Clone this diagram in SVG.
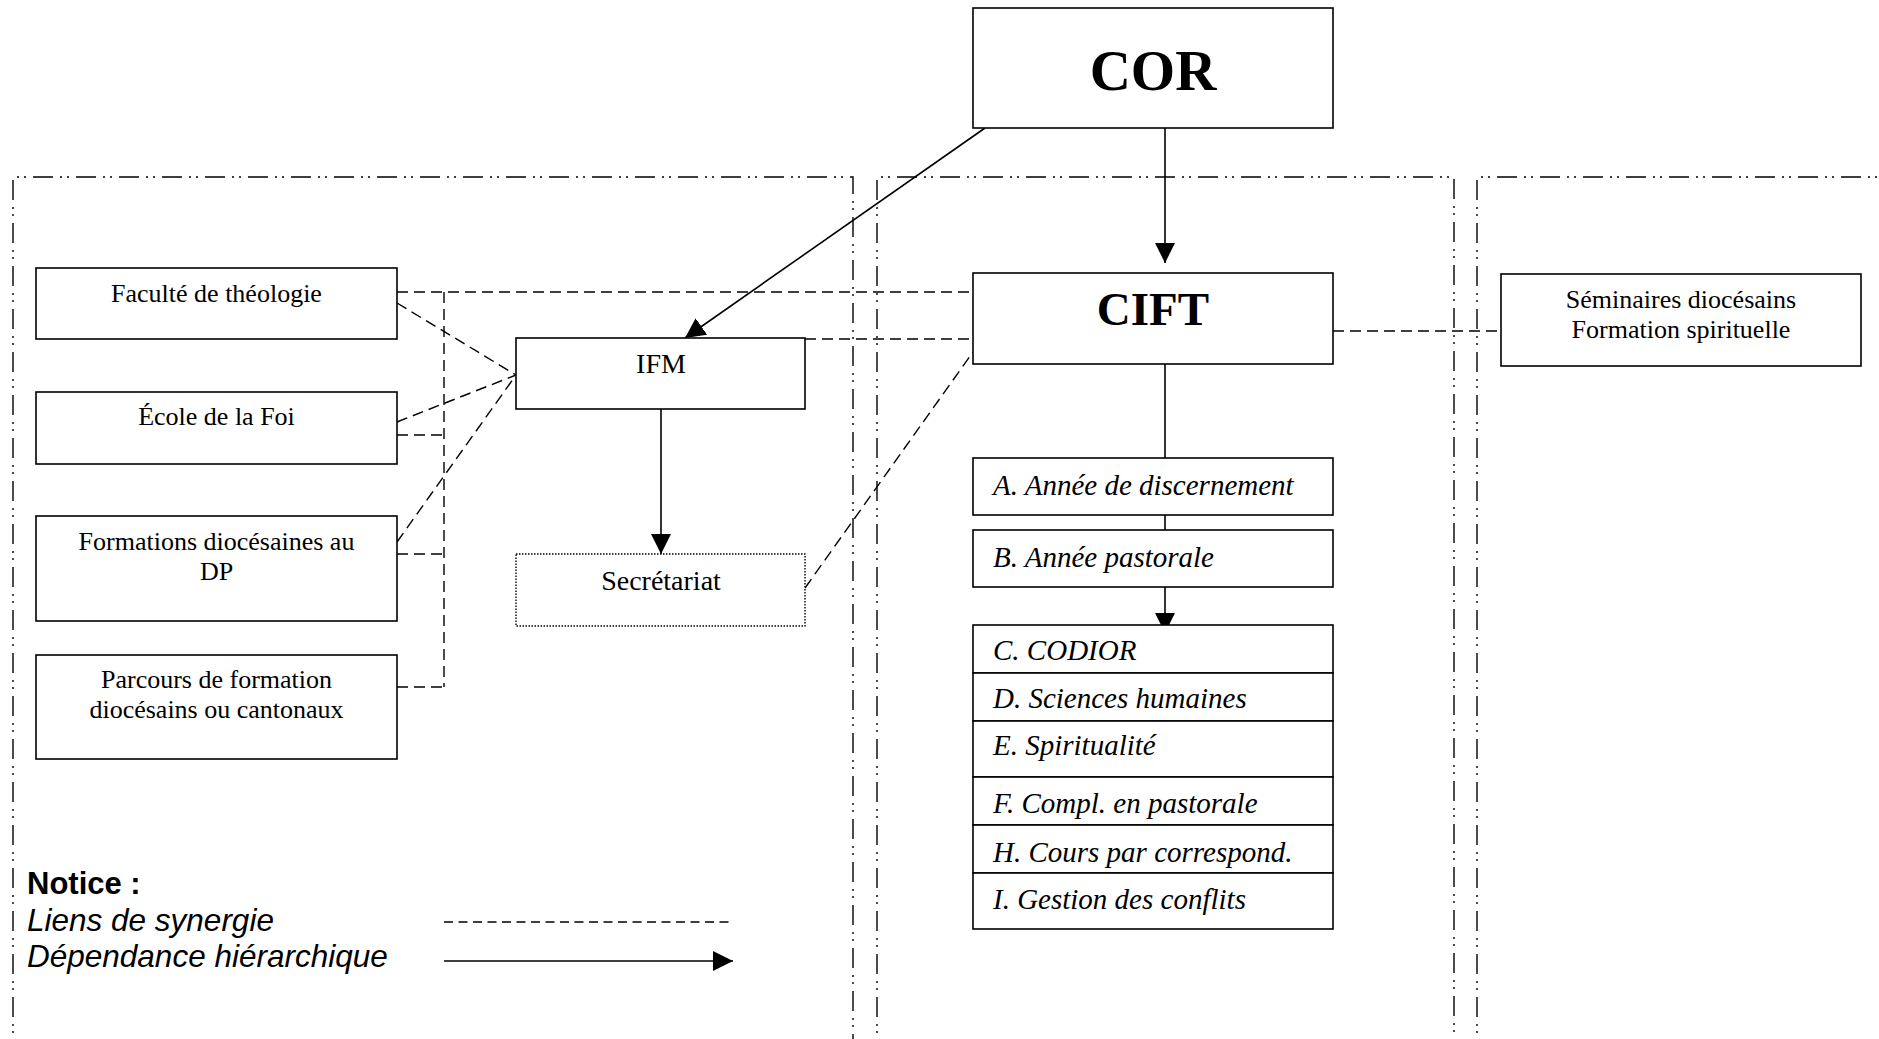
<svg xmlns="http://www.w3.org/2000/svg" width="1879" height="1039" viewBox="0 0 1879 1039">
<style>
.frame{fill:none;stroke:#000;stroke-width:1.4;stroke-dasharray:20 7 2 5 2 7}
.box{fill:#fff;stroke:#000;stroke-width:1.6}
.dotbox{fill:#fff;stroke:#000;stroke-width:1.4;stroke-dasharray:1.5 1.5}
.syn{fill:none;stroke:#000;stroke-width:1.4;stroke-dasharray:11 6}
.hier{fill:none;stroke:#000;stroke-width:1.6}
.t{font-family:"Liberation Serif","Times New Roman",serif;font-size:26px;fill:#000;text-anchor:middle}
.t28{font-family:"Liberation Serif","Times New Roman",serif;font-size:28px;fill:#000;text-anchor:middle}
.big{font-family:"Liberation Serif","Times New Roman",serif;font-weight:bold;fill:#000;text-anchor:middle}
.it{font-family:"Liberation Serif","Times New Roman",serif;font-style:italic;font-size:29px;fill:#000}
.lg{font-family:"Liberation Sans",Arial,sans-serif;fill:#000}
</style>
<defs>
<marker id="arr" markerUnits="userSpaceOnUse" markerWidth="21" markerHeight="21" refX="20" refY="10" orient="auto" viewBox="0 0 21 21">
<path d="M0,0 L20,10 L0,20 z" fill="#000"/>
</marker>
</defs>
<rect width="1879" height="1039" fill="#fff"/>
<g id="frames">
<path class="frame" d="M13,1060 V177 H853 V1060"/>
<path class="frame" d="M877,1060 V177 H1454 V1060"/>
<path class="frame" d="M1477,1060 V177 H1900"/>
</g>
<g id="connectors">
<line class="hier" x1="985" y1="128" x2="685" y2="338" marker-end="url(#arr)"/>
<line class="hier" x1="1165" y1="128" x2="1165" y2="263" marker-end="url(#arr)"/>
<line class="hier" x1="661" y1="409" x2="661" y2="554" marker-end="url(#arr)"/>
<line class="hier" x1="1165" y1="364" x2="1165" y2="458"/>
<line class="hier" x1="1165" y1="515" x2="1165" y2="530"/>
<line class="hier" x1="1165" y1="587" x2="1165" y2="633" marker-end="url(#arr)"/>
<path class="syn" d="M397,292 H973"/>
<path class="syn" d="M444,292 V687"/>
<path class="syn" d="M397,435 H444"/>
<path class="syn" d="M397,554 H444"/>
<path class="syn" d="M397,687 H444"/>
<path class="syn" d="M397,303 L516,375"/>
<path class="syn" d="M397,422 L516,375"/>
<path class="syn" d="M397,542 L516,375"/>
<path class="syn" d="M805,339 H973"/>
<path class="syn" d="M805,588 L973,352"/>
<path class="syn" d="M1333,331 H1501"/>
</g>
<g id="cor"><rect class="box" x="973" y="8" width="360" height="120"/><text class="big" x="1153" y="90" font-size="57">COR</text></g>
<g id="cift"><rect class="box" x="973" y="273" width="360" height="91"/><text class="big" x="1153" y="325" font-size="47">CIFT</text></g>
<g id="faculte"><rect class="box" x="36" y="268" width="361" height="71"/><text class="t" x="216.5" y="302">Faculté de théologie</text></g>
<g id="ecole"><rect class="box" x="36" y="392" width="361" height="72"/><text class="t" x="216.5" y="425">École de la Foi</text></g>
<g id="formations"><rect class="box" x="36" y="516" width="361" height="105"/><text class="t" x="216.5" y="550">Formations diocésaines au</text><text class="t" x="216.5" y="580">DP</text></g>
<g id="parcours"><rect class="box" x="36" y="655" width="361" height="104"/><text class="t" x="216.5" y="688">Parcours de formation</text><text class="t" x="216.5" y="718">diocésains ou cantonaux</text></g>
<g id="ifm"><rect class="box" x="516" y="338" width="289" height="71"/><text class="t28" x="661" y="373">IFM</text></g>
<g id="secretariat"><rect class="dotbox" x="516" y="554" width="289" height="72"/><text class="t28" x="661" y="590">Secrétariat</text></g>
<g id="seminaires"><rect class="box" x="1501" y="274" width="360" height="92"/><text class="t" x="1681" y="308">Séminaires diocésains</text><text class="t" x="1681" y="338">Formation spirituelle</text></g>
<g id="a"><rect class="box" x="973" y="458" width="360" height="57"/><text class="it" x="993" y="495">A. Année de discernement</text></g>
<g id="b"><rect class="box" x="973" y="530" width="360" height="57"/><text class="it" x="993" y="567">B. Année pastorale</text></g>
<g id="courses">
<rect class="box" x="973" y="625" width="360" height="48"/><text class="it" x="993" y="660">C. CODIOR</text>
<rect class="box" x="973" y="673" width="360" height="48"/><text class="it" x="993" y="708">D. Sciences humaines</text>
<rect class="box" x="973" y="721" width="360" height="56"/><text class="it" x="993" y="755">E. Spiritualité</text>
<rect class="box" x="973" y="777" width="360" height="48"/><text class="it" x="993" y="813">F. Compl. en pastorale</text>
<rect class="box" x="973" y="825" width="360" height="48"/><text class="it" x="993" y="862">H. Cours par correspond.</text>
<rect class="box" x="973" y="873" width="360" height="56"/><text class="it" x="993" y="909">I. Gestion des conflits</text>
</g>
<g id="legend">
<text class="lg" x="27" y="894" font-size="31" font-weight="bold">Notice :</text>
<text class="lg" x="27" y="931" font-size="31.5" font-style="italic">Liens de synergie</text>
<text class="lg" x="27" y="967" font-size="31.5" font-style="italic">Dépendance hiérarchique</text>
<line x1="444" y1="922" x2="733" y2="922" stroke="#000" stroke-width="1.4" stroke-dasharray="9 5.5"/>
<line class="hier" x1="444" y1="961" x2="733" y2="961" marker-end="url(#arr)"/>
</g>
</svg>
